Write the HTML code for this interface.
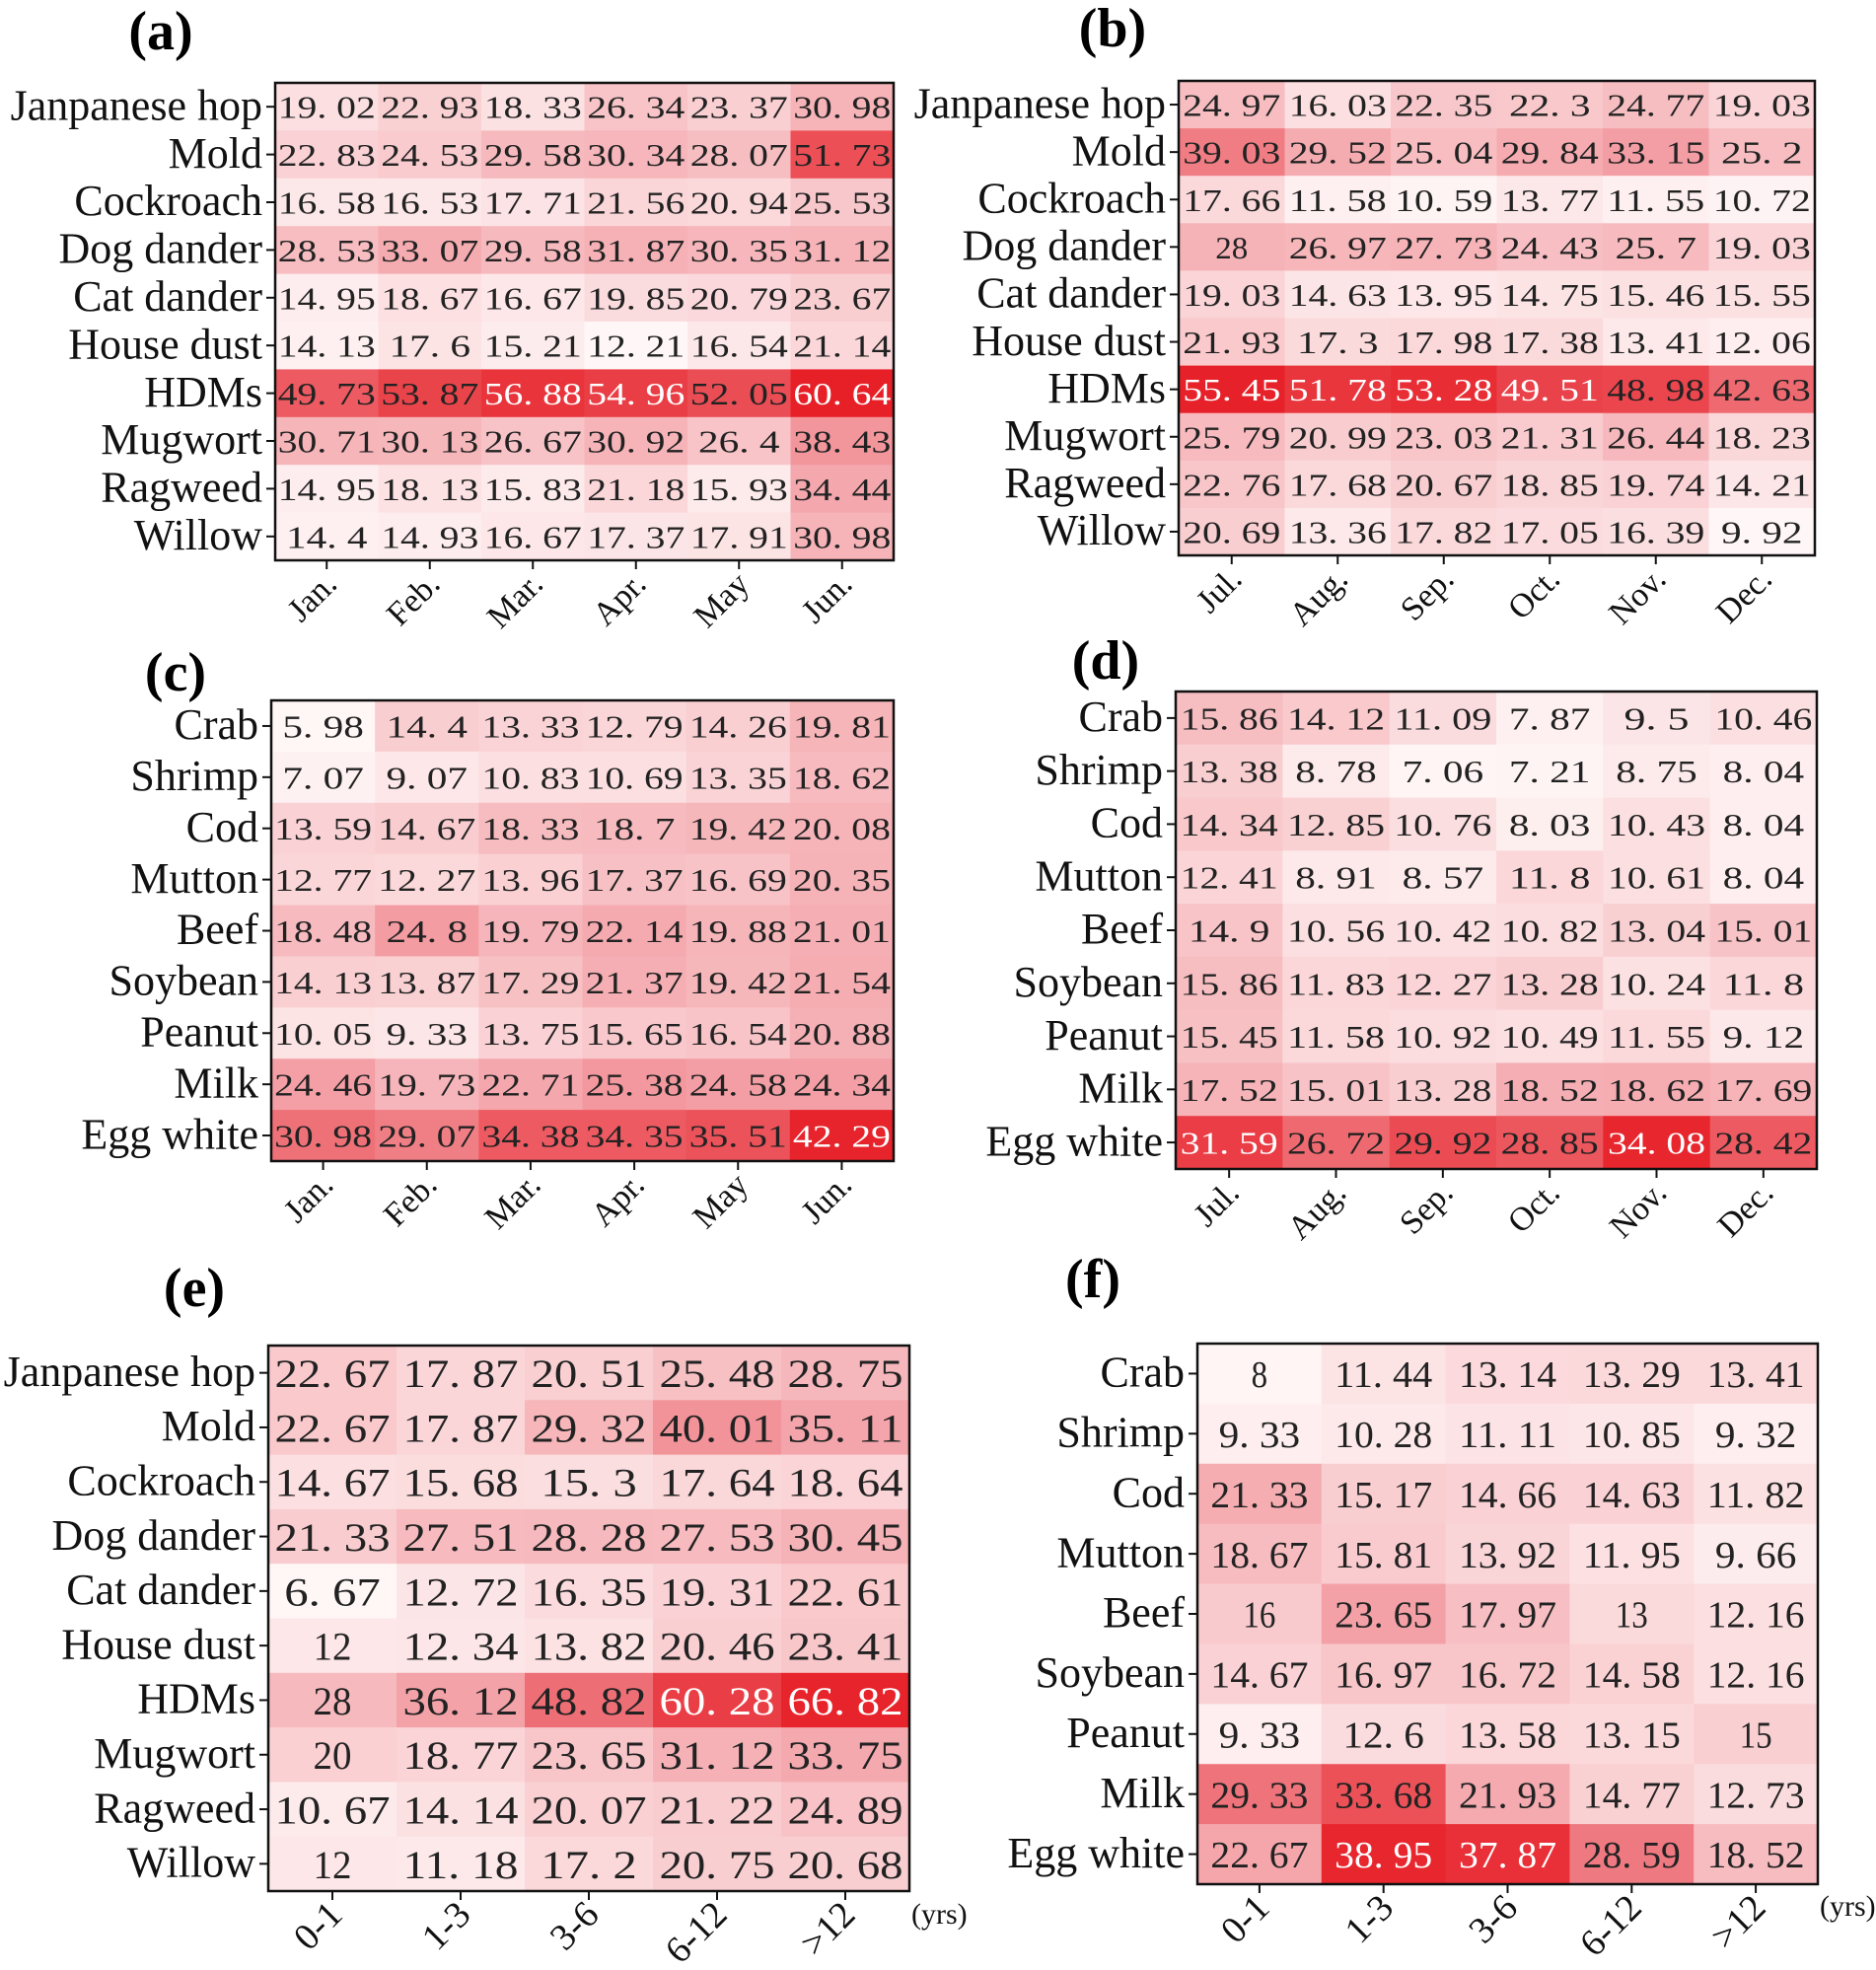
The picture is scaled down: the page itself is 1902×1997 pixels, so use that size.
<!DOCTYPE html>
<html><head><meta charset="utf-8"><style>
html,body{margin:0;padding:0;background:#fff;}
svg{display:block;}
</style></head><body>
<svg id="fig" width="1902" height="1997" viewBox="0 0 1902 1997" xmlns="http://www.w3.org/2000/svg" font-family="'Liberation Serif', serif"></svg>
<script>
const inhal=["Janpanese hop","Mold","Cockroach","Dog dander","Cat dander","House dust","HDMs","Mugwort","Ragweed","Willow"];
const food=["Crab","Shrimp","Cod","Mutton","Beef","Soybean","Peanut","Milk","Egg white"];
const monthsA=["Jan.","Feb.","Mar.","Apr.","May","Jun."];
const monthsB=["Jul.","Aug.","Sep.","Oct.","Nov.","Dec."];
const ages=["0-1","1-3","3-6","6-12",">12"];
const valsA=[[19.02,22.93,18.33,26.34,23.37,30.98],[22.83,24.53,29.58,30.34,28.07,51.73],[16.58,16.53,17.71,21.56,20.94,25.53],[28.53,33.07,29.58,31.87,30.35,31.12],[14.95,18.67,16.67,19.85,20.79,23.67],[14.13,17.6,15.21,12.21,16.54,21.14],[49.73,53.87,56.88,54.96,52.05,60.64],[30.71,30.13,26.67,30.92,26.4,38.43],[14.95,18.13,15.83,21.18,15.93,34.44],[14.4,14.93,16.67,17.37,17.91,30.98]];
const valsB=[[24.97,16.03,22.35,22.3,24.77,19.03],[39.03,29.52,25.04,29.84,33.15,25.2],[17.66,11.58,10.59,13.77,11.55,10.72],[28,26.97,27.73,24.43,25.7,19.03],[19.03,14.63,13.95,14.75,15.46,15.55],[21.93,17.3,17.98,17.38,13.41,12.06],[55.45,51.78,53.28,49.51,48.98,42.63],[25.79,20.99,23.03,21.31,26.44,18.23],[22.76,17.68,20.67,18.85,19.74,14.21],[20.69,13.36,17.82,17.05,16.39,9.92]];
const valsC=[[5.98,14.4,13.33,12.79,14.26,19.81],[7.07,9.07,10.83,10.69,13.35,18.62],[13.59,14.67,18.33,18.7,19.42,20.08],[12.77,12.27,13.96,17.37,16.69,20.35],[18.48,24.8,19.79,22.14,19.88,21.01],[14.13,13.87,17.29,21.37,19.42,21.54],[10.05,9.33,13.75,15.65,16.54,20.88],[24.46,19.73,22.71,25.38,24.58,24.34],[30.98,29.07,34.38,34.35,35.51,42.29]];
const valsD=[[15.86,14.12,11.09,7.87,9.5,10.46],[13.38,8.78,7.06,7.21,8.75,8.04],[14.34,12.85,10.76,8.03,10.43,8.04],[12.41,8.91,8.57,11.8,10.61,8.04],[14.9,10.56,10.42,10.82,13.04,15.01],[15.86,11.83,12.27,13.28,10.24,11.8],[15.45,11.58,10.92,10.49,11.55,9.12],[17.52,15.01,13.28,18.52,18.62,17.69],[31.59,26.72,29.92,28.85,34.08,28.42]];
const valsE=[[22.67,17.87,20.51,25.48,28.75],[22.67,17.87,29.32,40.01,35.11],[14.67,15.68,15.3,17.64,18.64],[21.33,27.51,28.28,27.53,30.45],[6.67,12.72,16.35,19.31,22.61],[12,12.34,13.82,20.46,23.41],[28,36.12,48.82,60.28,66.82],[20,18.77,23.65,31.12,33.75],[10.67,14.14,20.07,21.22,24.89],[12,11.18,17.2,20.75,20.68]];
const valsF=[[8,11.44,13.14,13.29,13.41],[9.33,10.28,11.11,10.85,9.32],[21.33,15.17,14.66,14.63,11.82],[18.67,15.81,13.92,11.95,9.66],[16,23.65,17.97,13,12.16],[14.67,16.97,16.72,14.58,12.16],[9.33,12.6,13.58,13.15,15],[29.33,33.68,21.93,14.77,12.73],[22.67,38.95,37.87,28.59,18.52]];

const NS="http://www.w3.org/2000/svg";
const svg=document.getElementById('fig');
function mk(tag,attrs,parent){const e=document.createElementNS(NS,tag);for(const k in attrs)e.setAttribute(k,attrs[k]);(parent||svg).appendChild(e);return e;}
function color(t){t=Math.max(0,Math.min(1,t));
  const c0=[255,248,248],c1=[243,160,166],c2=[231,30,38];let a,b,u;
  if(t<0.5){a=c0;b=c1;u=t/0.5;}else{a=c1;b=c2;u=(t-0.5)/0.5;}
  return `rgb(${a.map((v,i)=>Math.round(v+(b[i]-v)*u)).join(',')})`;}
function fmt(v){return String(v).replace('.', '. ');}

const panels=[
 {id:'a',rows:inhal,cols:monthsA,vals:valsA,x0:279,x1:906,y0:84,y1:568,vmin:12,vmax:61,lx:163,ly:50,nf:32,cw:16.5,lf:44,tf:34,yrs:null},
 {id:'b',rows:inhal,cols:monthsB,vals:valsB,x0:1195,x1:1840,y0:82,y1:563,vmin:9.5,vmax:56,lx:1128,ly:47,nf:32,cw:16.5,lf:44,tf:34,yrs:null},
 {id:'c',rows:food,cols:monthsA,vals:valsC,x0:275,x1:906,y0:710,y1:1177,vmin:5.5,vmax:43,lx:178,ly:700,nf:32,cw:16.5,lf:44,tf:34,yrs:null},
 {id:'d',rows:food,cols:monthsB,vals:valsD,x0:1192,x1:1842,y0:701,y1:1185,vmin:6.5,vmax:35,lx:1121,ly:688,nf:32,cw:16.5,lf:44,tf:34,yrs:null},
 {id:'e',rows:inhal,cols:ages,vals:valsE,x0:272,x1:922,y0:1364,y1:1917,vmin:6,vmax:68,lx:197,ly:1324,nf:40,cw:19.5,lf:44,tf:38,yrs:[924,1950]},
 {id:'f',rows:food,cols:ages,vals:valsF,x0:1214,x1:1843,y0:1362,y1:1910,vmin:7.5,vmax:40,lx:1108,ly:1315,nf:38,cw:16.5,lf:44,tf:38,yrs:[1845,1942]}
];

panels.forEach(p=>{
  const g=mk('g',{});
  
  
  const lab=mk('text',{x:p.lx,y:p.ly,'font-size':56,'font-weight':'bold','text-anchor':'middle'},g);
  lab.textContent='('+p.id+')';
  
  
  const nr=p.rows.length,nc=p.cols.length;
  const cwid=(p.x1-p.x0)/nc,rh=(p.y1-p.y0)/nr;
  const xs=j=>p.x0+cwid*j, ys=i=>p.y0+rh*i;
  for(let i=0;i<nr;i++)for(let j=0;j<nc;j++){
    const v=p.vals[i][j];const t=(v-p.vmin)/(p.vmax-p.vmin);
    const r=mk('rect',{x:xs(j),y:ys(i),width:cwid+0.5,height:rh+0.5,fill:color(t)},g);
    
    
    const s=fmt(v);
    const tx=mk('text',{x:xs(j)+cwid/2,y:ys(i)+rh/2+p.nf*0.36,'font-size':p.nf,'text-anchor':'middle',fill:t>0.86?'#fff':'#222',textLength:s.length*p.cw,lengthAdjust:'spacingAndGlyphs'},g);
    tx.textContent=s;
    
    
  }
  const box=mk('rect',{x:p.x0,y:p.y0,width:p.x1-p.x0,height:p.y1-p.y0,fill:'none',stroke:'#111','stroke-width':2.5},g);
  
  
  p.rows.forEach((name,i)=>{
    const cy=ys(i)+rh/2;
    mk('line',{x1:p.x0-9,x2:p.x0,y1:cy,y2:cy,stroke:'#111','stroke-width':2},g);
    const t=mk('text',{x:p.x0-13,y:cy+p.lf*0.3,'font-size':p.lf,'text-anchor':'end',fill:'#111'},g);
    t.textContent=name;
    
    
  });
  p.cols.forEach((name,j)=>{
    const cx=xs(j)+cwid/2;
    mk('line',{x1:cx,x2:cx,y1:p.y1,y2:p.y1+9,stroke:'#111','stroke-width':2},g);
    const ax=cx+12,ay=p.y1+26;
    const t=mk('text',{x:ax,y:ay,'font-size':p.tf,'text-anchor':'end',fill:'#111',transform:`rotate(-45 ${ax} ${ay})`},g);
    t.textContent=name;
    
    
  });
  if(p.yrs){
    const t=mk('text',{x:p.yrs[0],y:p.yrs[1],'font-size':30,fill:'#111'},g);
    t.textContent='(yrs)';
    
    
  }
});
</script>
</body></html>
